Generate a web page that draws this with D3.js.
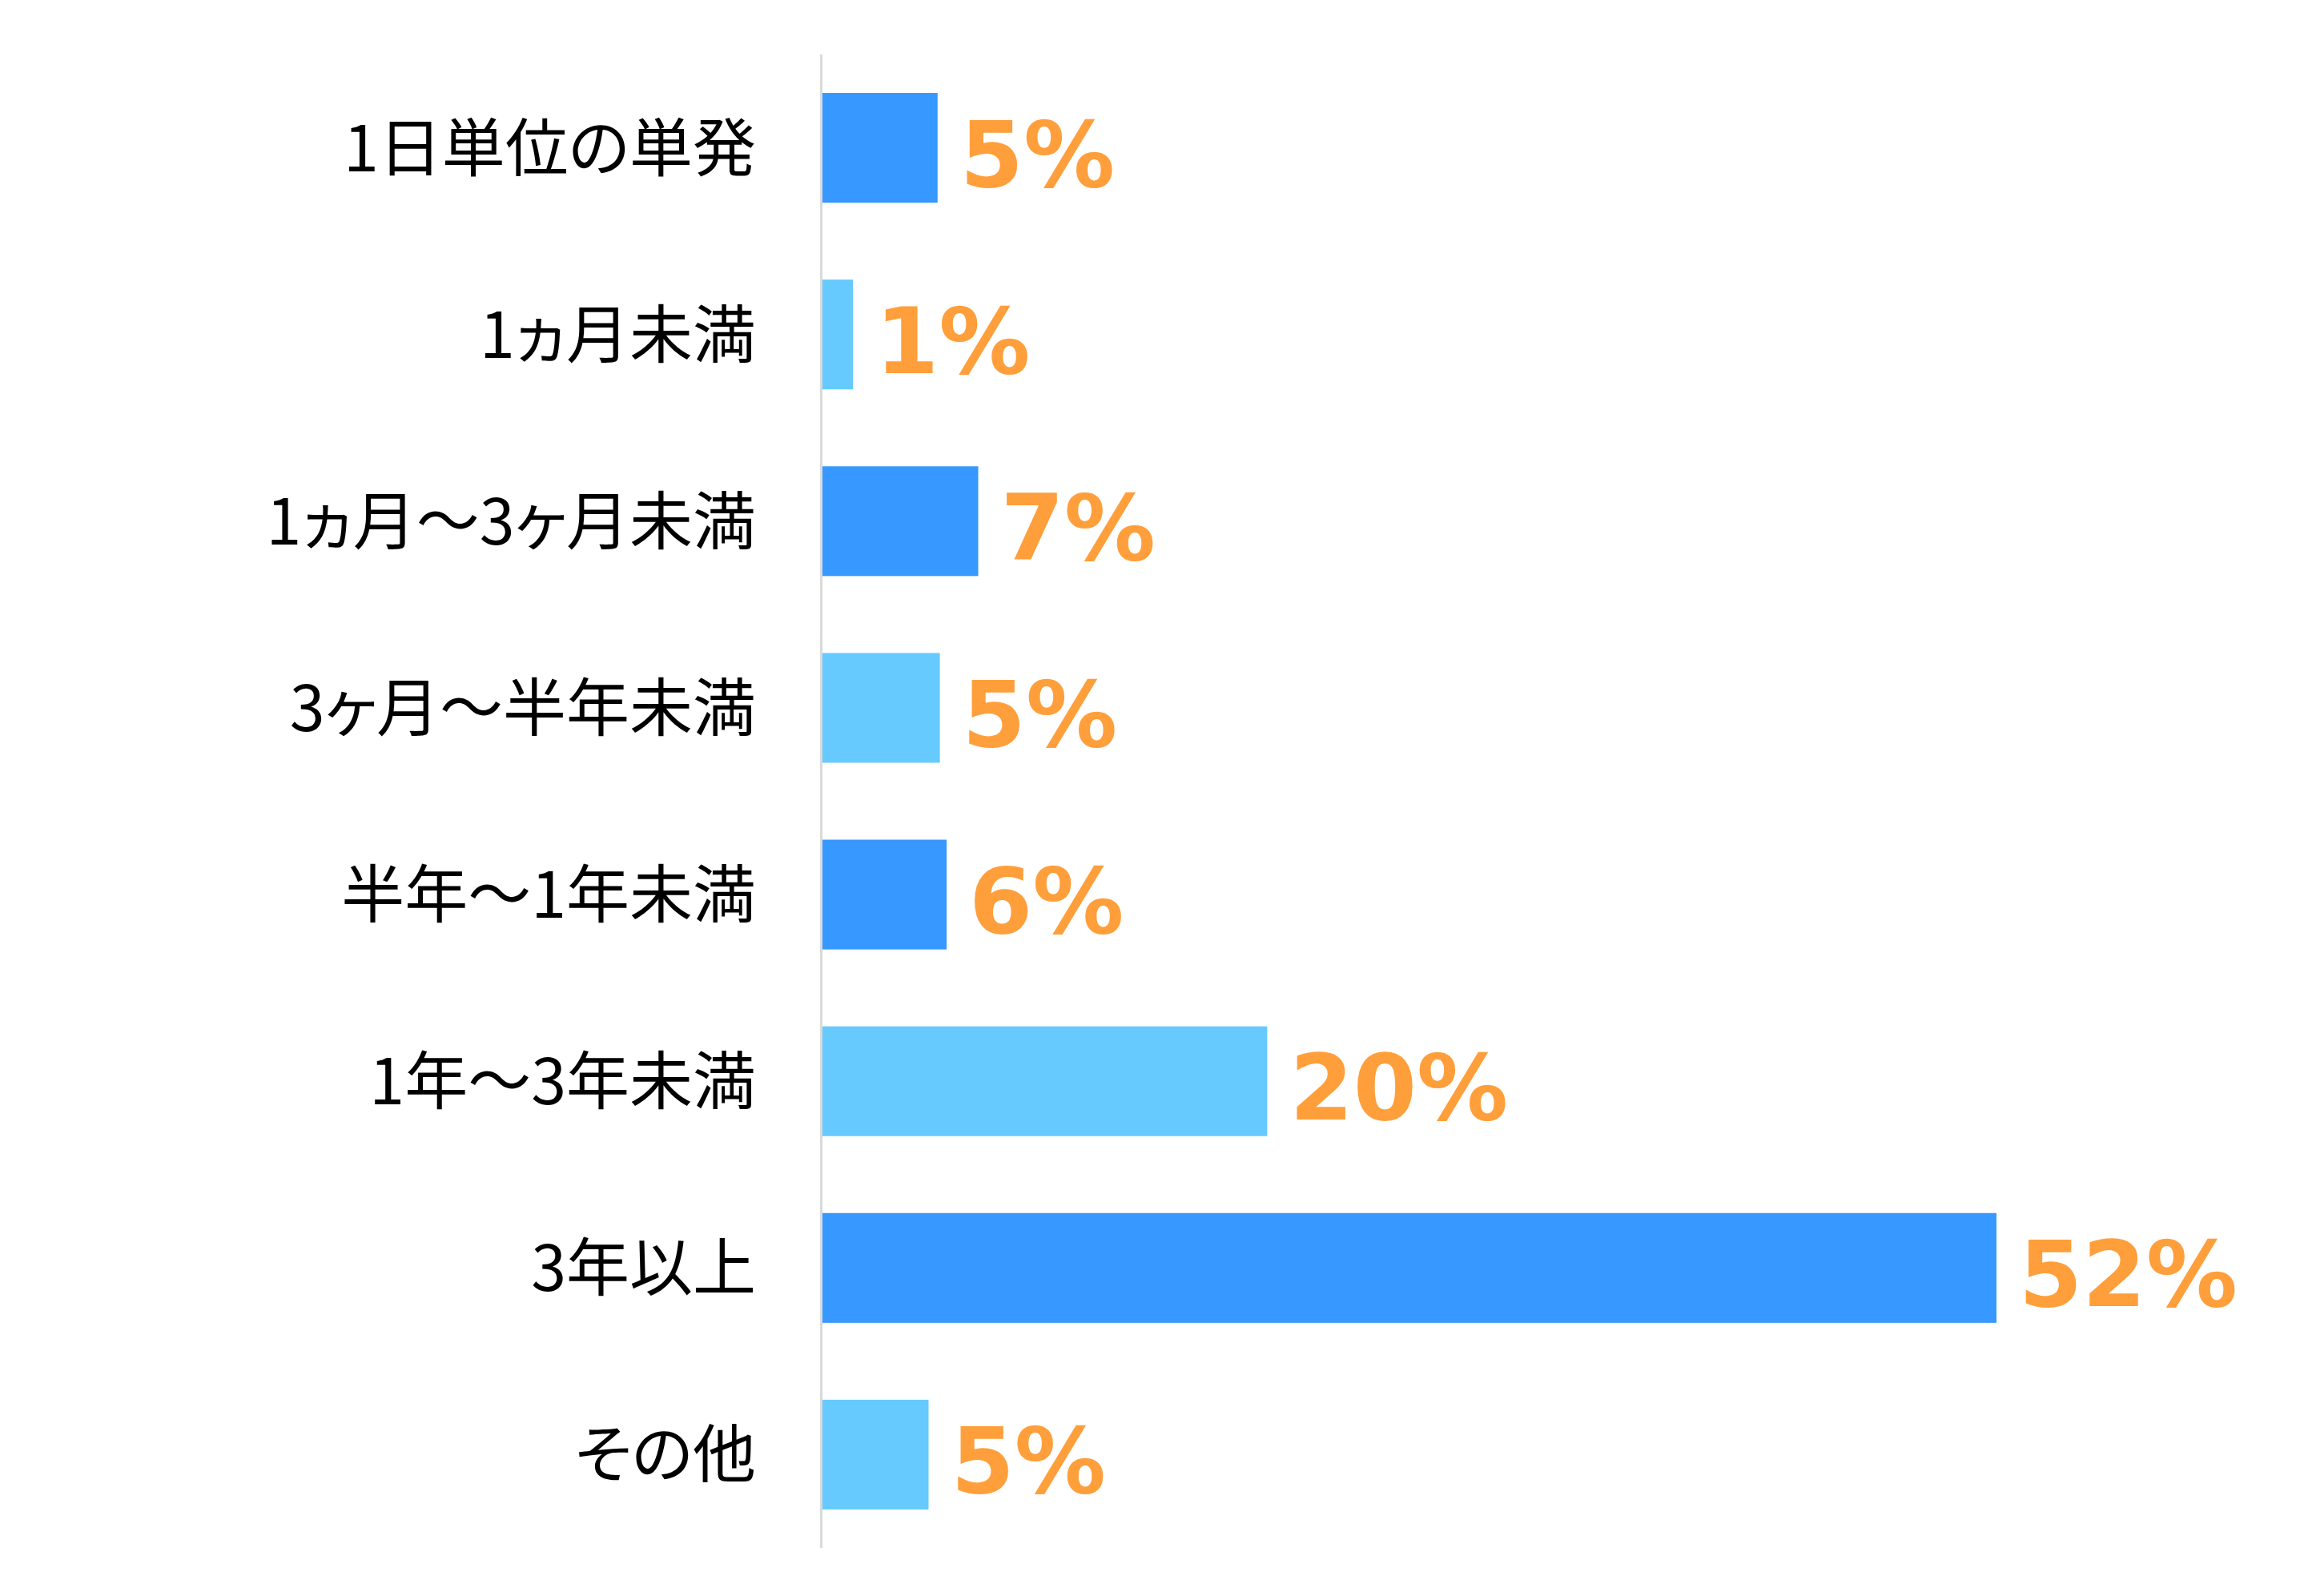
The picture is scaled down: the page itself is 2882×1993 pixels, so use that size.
<!DOCTYPE html>
<html>
<head>
<meta charset="utf-8">
<script src="https://cdn.jsdelivr.net/npm/d3@7"></script>
<style>
  body { margin: 0; background: #fff; }
</style>
</head>
<body>
<div id="chart"></div>
<script>
// data
var categories = ["1日単位の単発", "1ヵ月未満", "1ヵ月～3ヶ月未満", "3ヶ月～半年未満", "半年～1年未満", "1年～3年未満", "3年以上", "その他"];
var values = [5.1, 1.35, 6.9, 5.2, 5.5, 19.7, 52.0, 4.7];
var valueLabels = ["5%", "1%", "7%", "5%", "6%", "20%", "52%", "5%"];

// svg area
var svgWidth = 2882;
var svgHeight = 1993;

var margin = { top: 68, bottom: 60, left: 1027, right: 163 };

var svg = d3.select("#chart")
  .append("svg")
  .attr("width", svgWidth)
  .attr("height", svgHeight);

// scales
var xScale = d3.scaleLinear()
  .domain([0, 52])
  .range([margin.left, 2493]);

var yScale = d3.scaleBand()
  .domain(categories)
  .range([margin.top, svgHeight - margin.bottom])
  .paddingInner(0.412)
  .paddingOuter(0.206);

var barColors = ["#3799ff", "#66caff"];

// bars
svg.selectAll("rect.bar")
  .data(values)
  .enter()
  .append("rect")
  .attr("class", "bar")
  .attr("x", xScale(0))
  .attr("y", (d, i) => yScale(categories[i]))
  .attr("width", d => xScale(d) - xScale(0))
  .attr("height", yScale.bandwidth())
  .attr("fill", (d, i) => barColors[i % 2]);

// vertical axis line
svg.append("line")
  .attr("x1", margin.left - 1.5)
  .attr("x2", margin.left - 1.5)
  .attr("y1", margin.top)
  .attr("y2", svgHeight - margin.bottom)
  .attr("stroke", "#d9d9d9")
  .attr("stroke-width", 3);

// category labels
svg.selectAll("text.cat")
  .data(categories)
  .enter()
  .append("text")
  .attr("class", "cat")
  .attr("x", 944)
  .attr("y", d => yScale(d) + yScale.bandwidth() / 2 + 29)
  .attr("text-anchor", "end")
  .style("font-family", "'Noto Sans CJK JP', sans-serif")
  .style("font-size", "79px")
  .style("font-feature-settings", "'palt'")
  .attr("fill", "#000")
  .text(d => d);

// value labels
svg.selectAll("text.val")
  .data(values)
  .enter()
  .append("text")
  .attr("class", "val")
  .attr("x", d => xScale(d) + 28)
  .attr("y", (d, i) => yScale(categories[i]) + yScale.bandwidth() / 2 + 48)
  .style("font-family", "'DejaVu Sans', sans-serif")
  .style("font-weight", "bold")
  .style("font-size", "114px")
  .attr("fill", "#ff9f3b")
  .text((d, i) => valueLabels[i]);
</script>
</body>
</html>
